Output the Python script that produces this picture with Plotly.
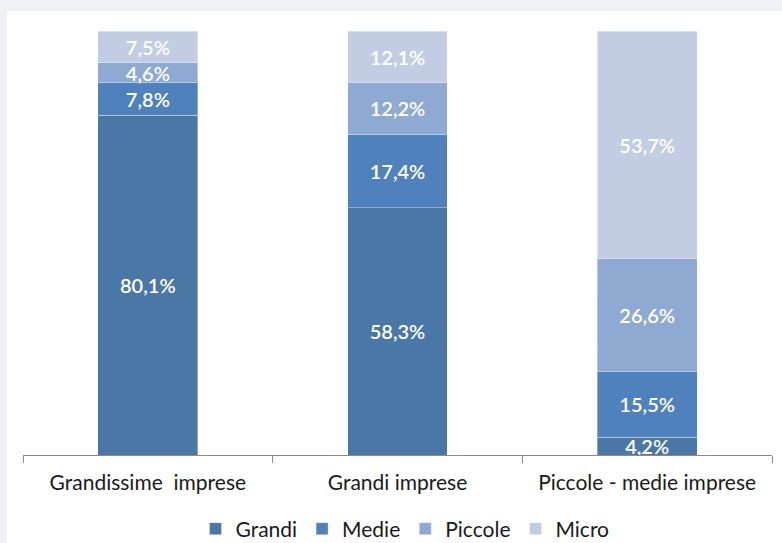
import plotly.graph_objects as go

categories = ["Grandissime\u00a0 imprese", "Grandi imprese", "Piccole - medie imprese"]
series_names = ["Grandi", "Medie", "Piccole", "Micro"]
grandi = [80.1, 58.3, 4.2]
medie = [7.8, 17.4, 15.5]
piccole = [4.6, 12.2, 26.6]
micro = [7.5, 12.1, 53.7]
colors = ["#4a77a6", "#4f81bd", "#8eaad2", "#c2cde3"]

W, H = 782, 543
ML, MR, MT, MB = 23, 10, 31, 88
pw, ph = W - ML - MR, H - MT - MB

def fmt(v):
    return f"{v:.1f}".replace(".", ",") + "%"

fig = go.Figure()
for name, vals, col in zip(series_names, [grandi, medie, piccole, micro], colors):
    fig.add_trace(go.Bar(
        name=name, x=categories, y=vals,
        marker=dict(color=col, line=dict(color="rgba(255,255,255,0.35)", width=1)),
        text=[fmt(v) for v in vals], textposition="inside",
        insidetextanchor="middle", constraintext="none",
        textfont=dict(family="Lato", size=20, color="white", weight=600),
        hoverinfo="skip",
    ))

fig.update_layout(
    barmode="stack", bargap=0.6,
    width=W, height=H,
    margin=dict(l=ML, r=MR, t=MT, b=MB, pad=0, autoexpand=False),
    paper_bgcolor="#f0f1f3", plot_bgcolor="white",
    font=dict(family="Lato", size=21, color="#1a1a1a"),
    xaxis=dict(showline=True, linecolor="#8a8a8a", linewidth=1,
               ticks="outside", tickson="boundaries", ticklen=7,
               tickcolor="#8a8a8a", tickfont=dict(size=21, color="#1a1a1a"),
               ticklabelstandoff=9, automargin=False,
               showgrid=False, fixedrange=True),
    yaxis=dict(range=[0, 100], visible=False, showgrid=False, fixedrange=True),
    legend=dict(orientation="h", x=0.51, xanchor="center", y=-0.1745, yanchor="middle",
                font=dict(size=21, color="#1a1a1a"), itemwidth=30, traceorder="normal",
                bgcolor="rgba(0,0,0,0)"),
    showlegend=True,
    shapes=[dict(type="rect", xref="paper", yref="paper",
                 x0=(7 - ML) / pw, x1=(W - ML) / pw + 0.01,
                 y0=-(H - MT - ph) / ph - 0.05, y1=(MT + ph - 11) / ph,
                 fillcolor="white", line=dict(width=0), layer="below")],
)

fig.write_html("out.html", config={"displayModeBar": False},
               post_script="document.body.style.margin='0';document.body.style.background='#f0f1f3';")
